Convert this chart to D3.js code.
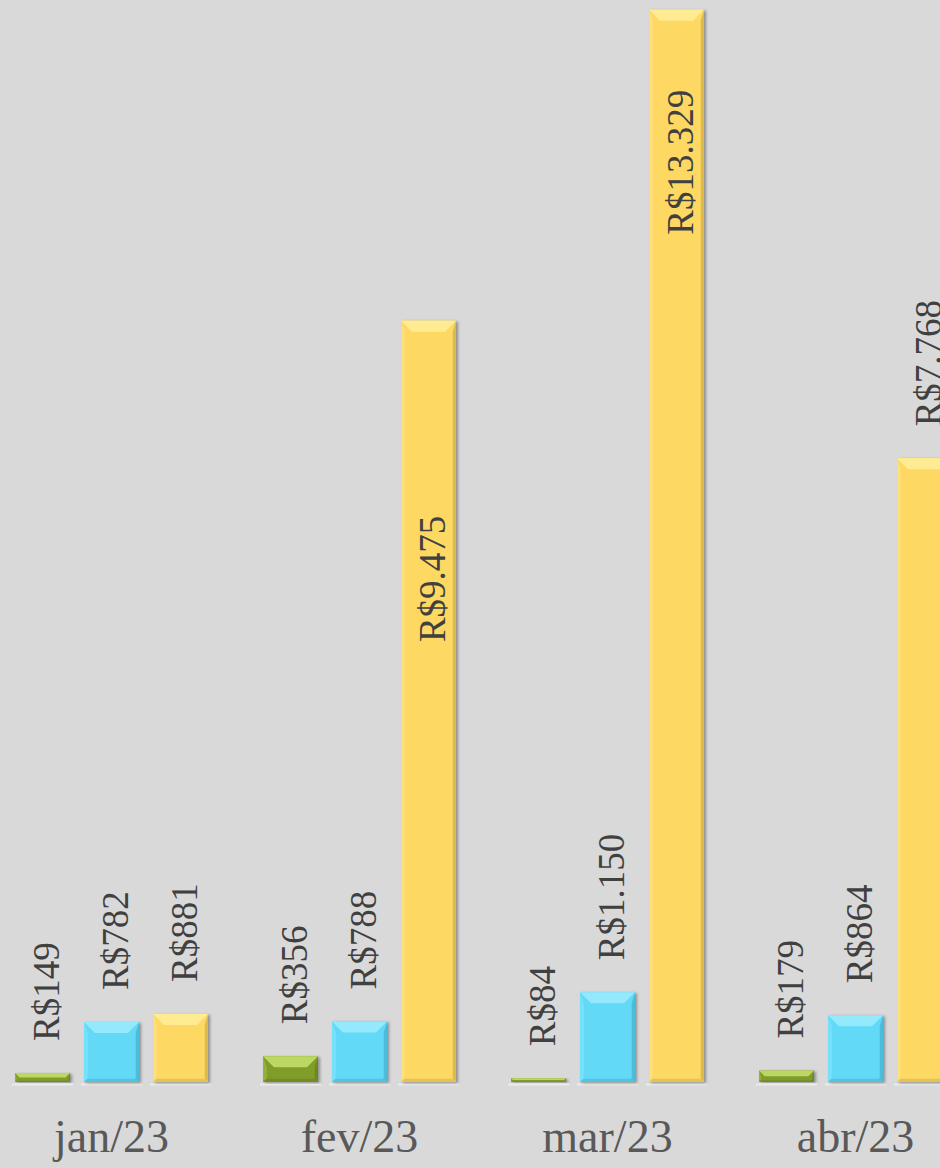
<!DOCTYPE html>
<html>
<head>
<meta charset="utf-8">
<script src="https://cdn.jsdelivr.net/npm/d3@7"></script>
<style>
  html, body { margin: 0; padding: 0; background: #d9d9d9; }
  svg { display: block; }
</style>
</head>
<body>
<svg id="chart" width="940" height="1168"></svg>
<script>
// data
const months = ["jan/23", "fev/23", "mar/23", "abr/23"];
const seriesGreen = [149, 356, 84, 179];
const seriesBlue = [782, 788, 1150, 864];
const seriesYellow = [881, 9475, 13329, 7768];
// where the label sits inside the yellow bar (value units), null = above the bar
const yellowLabelAt = [null, 5490, 10540, null];

const width = 940;
const height = 1168;

const svg = d3.select("#chart");

const colors = {
    green:  { body: "#809d2a", top: "#bcd762", side: "#97b53c", dark: "#5d7419" },
    blue:   { body: "#62d9f7", top: "#95e9fc", side: "#7ae1fa", dark: "#3aa4c2" },
    yellow: { body: "#fdd863", top: "#ffec92", side: "#fee07a", dark: "#c4a33a" }
};
const keys = ["green", "blue", "yellow"];
const values = { green: seriesGreen, blue: seriesBlue, yellow: seriesYellow };

const brl = d3.formatLocale({ decimal: ",", thousands: ".", grouping: [3], currency: ["R$", ""] });
const fmt = brl.format("$,.0f");

// scales
const x0 = d3.scaleBand()
    .domain(months)
    .range([-12.5, 979.5])
    .paddingInner(55 / 248)
    .paddingOuter(55 / 496);

const x1 = d3.scaleBand()
    .domain(keys)
    .range([0, x0.bandwidth()])
    .paddingInner(14 / 69)
    .paddingOuter(0);

const y = d3.scaleLinear()
    .domain([0, 13400])
    .range([1085, 4]);

const base = y(0) - 3;

// shadow filter
const defs = svg.append("defs");
const f = defs.append("filter").attr("id", "shadow")
    .attr("x", "-20%").attr("y", "-5%").attr("width", "140%").attr("height", "110%");
f.append("feDropShadow")
    .attr("dx", 2).attr("dy", 1).attr("stdDeviation", 1.8)
    .attr("flood-color", "#000").attr("flood-opacity", 0.35);

const rows = [];
months.forEach((m, i) => {
    keys.forEach(k => {
        rows.push({ month: m, key: k, value: values[k][i], i: i });
    });
});

// light reflection line under each bar
svg.selectAll("line.floor")
    .data(rows)
    .enter()
    .append("line")
    .attr("class", "floor")
    .attr("x1", d => x0(d.month) + x1(d.key) - 3)
    .attr("x2", d => x0(d.month) + x1(d.key) + x1.bandwidth() + 3)
    .attr("y1", base + 2.5)
    .attr("y2", base + 2.5)
    .attr("stroke", "#ececec")
    .attr("stroke-width", 2);

const bars = svg.selectAll("g.bar")
    .data(rows)
    .enter()
    .append("g")
    .attr("class", "bar")
    .attr("transform", d => `translate(${x0(d.month) + x1(d.key)},0)`);

const bw = x1.bandwidth();

bars.append("rect")
    .attr("x", 0)
    .attr("y", d => y(d.value))
    .attr("width", bw)
    .attr("height", d => base - y(d.value))
    .attr("fill", d => colors[d.key].body)
    .attr("filter", "url(#shadow)");

// bevel faces
function bevel(d) {
    const t = y(d.value);
    const h = base - t;
    return Math.min(11, h / 2);
}

bars.append("polygon") // top
    .attr("points", d => {
        const t = y(d.value), b = bevel(d);
        return [[0, t], [bw, t], [bw - b, t + b], [b, t + b]].join(" ");
    })
    .attr("fill", d => colors[d.key].top);

bars.append("polygon") // left
    .attr("points", d => {
        const t = y(d.value), b = bevel(d);
        return [[0, t], [b * 0.35, t + b], [b * 0.35, base - b * 0.3], [0, base]].join(" ");
    })
    .attr("fill", d => colors[d.key].side)
    .attr("opacity", 0.8);

bars.append("polygon") // right
    .attr("points", d => {
        const t = y(d.value), b = bevel(d);
        return [[bw, t], [bw - b * 0.3, t + b], [bw - b * 0.3, base - b * 0.3], [bw, base]].join(" ");
    })
    .attr("fill", d => colors[d.key].dark)
    .attr("opacity", 0.55);

bars.append("polygon") // bottom
    .attr("points", d => {
        const b = bevel(d) * 0.3;
        return [[0, base], [b, base - b], [bw - b, base - b], [bw, base]].join(" ");
    })
    .attr("fill", d => colors[d.key].dark)
    .attr("opacity", 0.4);

// value labels
bars.append("text")
    .attr("transform", d => {
        const inside = d.key === "yellow" && yellowLabelAt[d.i] !== null;
        const ty = inside ? y(yellowLabelAt[d.i]) : y(d.value) - 32;
        return `translate(${bw / 2 + 4},${ty}) rotate(-90)`;
    })
    .attr("dy", "0.35em")
    .attr("text-anchor", "start")
    .attr("font-family", "'Liberation Serif', serif")
    .attr("font-size", 37)
    .attr("fill", "#404040")
    .text(d => fmt(d.value));

// category labels
svg.selectAll("text.cat")
    .data(months)
    .enter()
    .append("text")
    .attr("class", "cat")
    .attr("x", d => x0(d) + x0.bandwidth() / 2)
    .attr("y", 1152)
    .attr("text-anchor", "middle")
    .attr("font-family", "'Liberation Serif', serif")
    .attr("font-size", 46)
    .attr("fill", "#595959")
    .text(d => d);
</script>
</body>
</html>
